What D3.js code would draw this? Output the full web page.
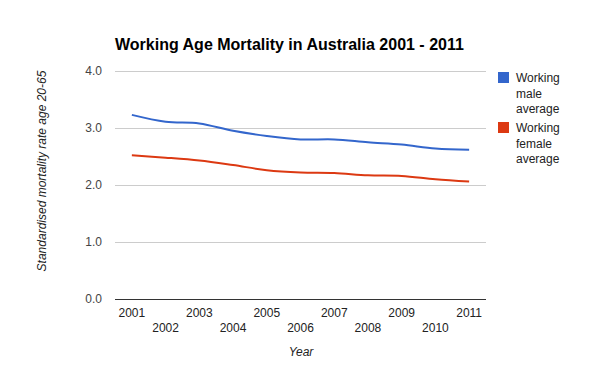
<!DOCTYPE html>
<html><head><meta charset="utf-8">
<script src="https://cdn.jsdelivr.net/npm/d3@7"></script>
<style>body{margin:0;background:#fff}svg{display:block;font-family:Arial,"Liberation Sans",sans-serif}</style>
</head><body><svg id="c" width="600" height="371"></svg>
<script>
const years = [2001,2002,2003,2004,2005,2006,2007,2008,2009,2010,2011];
const maleAvg = [3.23,3.11,3.08,2.95,2.86,2.80,2.80,2.75,2.71,2.64,2.62];
const femaleAvg = [2.52,2.48,2.43,2.35,2.26,2.22,2.21,2.17,2.16,2.10,2.06];
const yTicks = [0,1,2,3,4];
const seriesNames = [["Working","male","average"],["Working","female","average"]];
const colors = ["#3366cc","#dc3912"];

const svg = d3.select("#c");
const L=115,R=486,T=71,B=299;
const x = d3.scalePoint().domain(years).range([L,R]).padding(0.5);
const y = d3.scaleLinear().domain([0,4]).range([B,T]);

svg.append("text").attr("x",115).attr("y",50).attr("font-size",16).attr("font-weight","bold").attr("fill","#000")
  .text("Working Age Mortality in Australia 2001 - 2011");

// grid
svg.append("g").selectAll("line").data(yTicks.filter(d=>d>0)).join("line")
  .attr("x1",L).attr("x2",R).attr("y1",d=>Math.round(y(d))+0.5).attr("y2",d=>Math.round(y(d))+0.5)
  .attr("stroke","#cccccc");
svg.append("line").attr("x1",L).attr("x2",R).attr("y1",B+0.5).attr("y2",B+0.5).attr("stroke","#333");

svg.append("g").selectAll("text").data(yTicks).join("text")
  .attr("x",102).attr("y",d=>y(d)+4).attr("text-anchor","end").attr("font-size",12).attr("fill","#444")
  .text(d=>d3.format(".1f")(d));

svg.append("g").selectAll("text").data(years).join("text")
  .attr("x",d=>x(d)).attr("y",(d,i)=>i%2===0?317:332).attr("text-anchor","middle")
  .attr("font-size",12).attr("fill","#222").text(d=>d);

svg.append("text").attr("x",301).attr("y",356).attr("text-anchor","middle").attr("font-size",12)
  .attr("font-style","italic").attr("fill","#222").text("Year");
svg.append("text").attr("transform","translate(46,171) rotate(-90)").attr("text-anchor","middle")
  .attr("font-size",12).attr("font-style","italic").attr("fill","#222").text("Standardised mortality rate age 20-65");

const line = d3.line().x((d,i)=>x(years[i])).y(d=>y(d)).curve(d3.curveCatmullRom.alpha(0.5));
[maleAvg,femaleAvg].forEach((s,k)=>{
  svg.append("path").attr("d",line(s)).attr("fill","none").attr("stroke",colors[k]).attr("stroke-width",2);
});

// legend
seriesNames.forEach((lines,k)=>{
  const y0 = 72 + k*50;
  svg.append("rect").attr("x",498).attr("y",y0).attr("width",11).attr("height",11).attr("fill",colors[k]);
  lines.forEach((t,j)=>{
    svg.append("text").attr("x",516).attr("y",y0+10+j*15.5).attr("font-size",12).attr("fill","#222").text(t);
  });
});
</script></body></html>
